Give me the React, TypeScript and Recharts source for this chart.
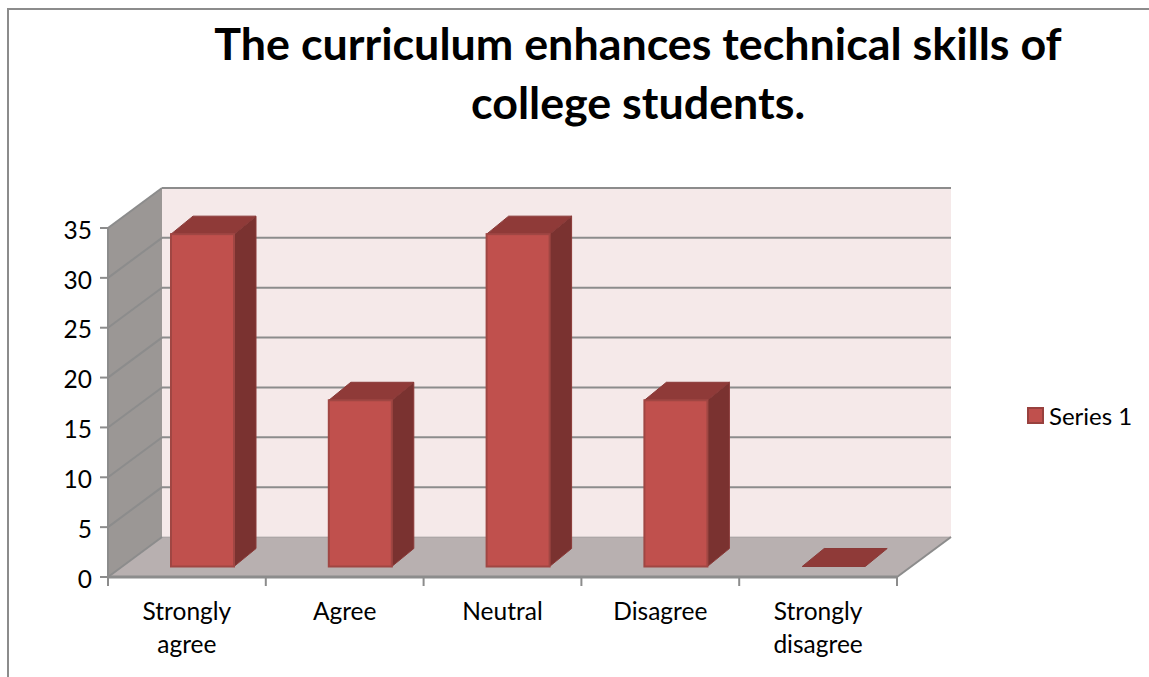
import { Bar, BarChart, CartesianGrid, Legend, XAxis, YAxis } from "recharts";

const categories = ["Strongly agree", "Agree", "Neutral", "Disagree", "Strongly disagree"];
const series1 = [33.33, 16.67, 33.33, 16.67, 0];
const yTicks = [0, 5, 10, 15, 20, 25, 30, 35];
const titleLines = ["The curriculum enhances technical skills of", "college students."];

const data = categories.map((name, i) => ({ name, value: series1[i] }));

const FONT = "Lato, sans-serif";
const GREY = "#8c8c8c";
// depth of the fake 3D box
const WALL_DX = 54;
const WALL_DY = -40;
const BAR_DX = 22;
const BAR_DY = -18;
const BAR_SHIFT_X = 16;
const BAR_SHIFT_Y = -10.5;

function WallLine(props: any) {
  const { x1, x2, y1, index, x, y, width, height } = props;
  const bottom = y + height;
  const right = x + width;
  const walls = index === 0 && (
    <g>
      <polygon
        points={`${x + WALL_DX},${y + WALL_DY} ${right + WALL_DX},${y + WALL_DY} ${right + WALL_DX},${bottom + WALL_DY} ${x + WALL_DX},${bottom + WALL_DY}`}
        fill="#f5e9e9"
      />
      <polygon
        points={`${x},${y} ${x + WALL_DX},${y + WALL_DY} ${x + WALL_DX},${bottom + WALL_DY} ${x},${bottom}`}
        fill="#9b9795"
      />
      <polygon
        points={`${x},${bottom} ${x + WALL_DX},${bottom + WALL_DY} ${right + WALL_DX},${bottom + WALL_DY} ${right},${bottom}`}
        fill="#b8b0b0"
      />
      <line x1={right} y1={bottom} x2={right + WALL_DX} y2={bottom + WALL_DY} stroke={GREY} strokeWidth={2} />
    </g>
  );
  return (
    <g>
      {walls}
      <line x1={x1} y1={y1} x2={x1 + WALL_DX} y2={y1 + WALL_DY} stroke={GREY} strokeWidth={2} />
      <line
        x1={x1 + WALL_DX}
        y1={y1 + WALL_DY}
        x2={x2 + WALL_DX}
        y2={y1 + WALL_DY}
        stroke={GREY}
        strokeWidth={index === 0 ? 1 : 2}
        strokeOpacity={index === 0 ? 0.5 : 1}
      />
    </g>
  );
}

function Box3D(props: any) {
  const { x, y, width, height } = props;
  const l = x + BAR_SHIFT_X;
  const r = l + width;
  const t = y + BAR_SHIFT_Y;
  const b = t + height;
  return (
    <g>
      {height > 0 && (
        <polygon
          points={`${r},${t} ${r + BAR_DX},${t + BAR_DY} ${r + BAR_DX},${b + BAR_DY} ${r},${b}`}
          fill="#7a3230"
          stroke="#8a3a38"
          strokeWidth={1}
        />
      )}
      <polygon
        points={`${l},${t} ${l + BAR_DX},${t + BAR_DY} ${r + BAR_DX},${t + BAR_DY} ${r},${t}`}
        fill="#8f3a38"
        stroke="#8a3a38"
        strokeWidth={1}
      />
      {height > 0 && <rect x={l} y={t} width={width} height={height} fill="#c0504d" stroke="#a04643" strokeWidth={2} />}
    </g>
  );
}

function CategoryTick(props: any) {
  const { x, y, payload, index, width, visibleTicksCount } = props;
  const band = width / visibleTicksCount;
  // tick y comes in below the axis line by tick size + margin
  const axisY = y - 8;
  const words = String(payload.value).split(" ");
  return (
    <g>
      <line x1={x - band / 2} y1={axisY} x2={x - band / 2} y2={axisY + 9} stroke={GREY} strokeWidth={2} />
      {index === visibleTicksCount - 1 && (
        <line x1={x + band / 2} y1={axisY} x2={x + band / 2} y2={axisY + 9} stroke={GREY} strokeWidth={2} />
      )}
      <text textAnchor="middle" fontFamily={FONT} fontSize={24.5} fill="#000">
        {words.map((w, i) => (
          <tspan key={w} x={x} y={axisY + 43 + i * 33}>
            {w}
          </tspan>
        ))}
      </text>
    </g>
  );
}

function LegendBox({ payload }: any) {
  return (
    <div style={{ display: "flex", alignItems: "center", fontFamily: FONT, fontSize: 24, color: "#000" }}>
      {(payload ?? []).map((p: any) => (
        <span key={p.value} style={{ display: "flex", alignItems: "center" }}>
          <span
            style={{
              display: "inline-block",
              width: 13,
              height: 13,
              background: "#c0504d",
              border: "2px solid #98413e",
              marginRight: 5,
            }}
          />
          {p.value}
        </span>
      ))}
    </div>
  );
}

export default function App() {
  return (
    <div style={{ position: "absolute", left: 0, top: 0, width: 1149, height: 677, overflow: "hidden", background: "#fff" }}>
      <div
        style={{
          position: "absolute",
          left: 7,
          top: 8,
          width: 1142,
          height: 669,
          boxSizing: "border-box",
          borderLeft: `2px solid ${GREY}`,
          borderTop: `2px solid ${GREY}`,
        }}
      />
      <div
        style={{
          position: "absolute",
          left: 138,
          top: 14,
          width: 1000,
          textAlign: "center",
          fontFamily: FONT,
          fontWeight: 700,
          fontSize: 44.8,
          lineHeight: "59px",
          color: "#000",
        }}
      >
        {titleLines.map((line) => (
          <div key={line}>{line}</div>
        ))}
      </div>
      <div style={{ position: "absolute", left: 0, top: 0 }}>
        <BarChart
          width={1149}
          height={677}
          data={data}
          barSize={63}
          margin={{ top: 228, right: 252, bottom: 10, left: 60 }}
        >
          <CartesianGrid vertical={false} horizontal={(p: any) => <WallLine key={p.key} {...p} />} />
          <XAxis
            dataKey="name"
            height={90}
            interval={0}
            axisLine={{ stroke: GREY, strokeWidth: 3 }}
            tickLine={false}
            tick={<CategoryTick />}
          />
          <YAxis
            width={48}
            domain={[0, 35]}
            ticks={yTicks}
            interval={0}
            tickSize={8}
            tickMargin={8}
            axisLine={{ stroke: GREY, strokeWidth: 2 }}
            tickLine={{ stroke: GREY, strokeWidth: 2 }}
            tick={{ fontFamily: FONT, fontSize: 24.5, fill: "#000", dy: 2 }}
          />
          <Legend
            layout="vertical"
            align="center"
            verticalAlign="middle"
            wrapperStyle={{ left: 1027, top: 401, width: 120 }}
            content={<LegendBox />}
          />
          <Bar dataKey="value" name="Series 1" fill="#c0504d" shape={<Box3D />} isAnimationActive={false} />
        </BarChart>
      </div>
    </div>
  );
}
